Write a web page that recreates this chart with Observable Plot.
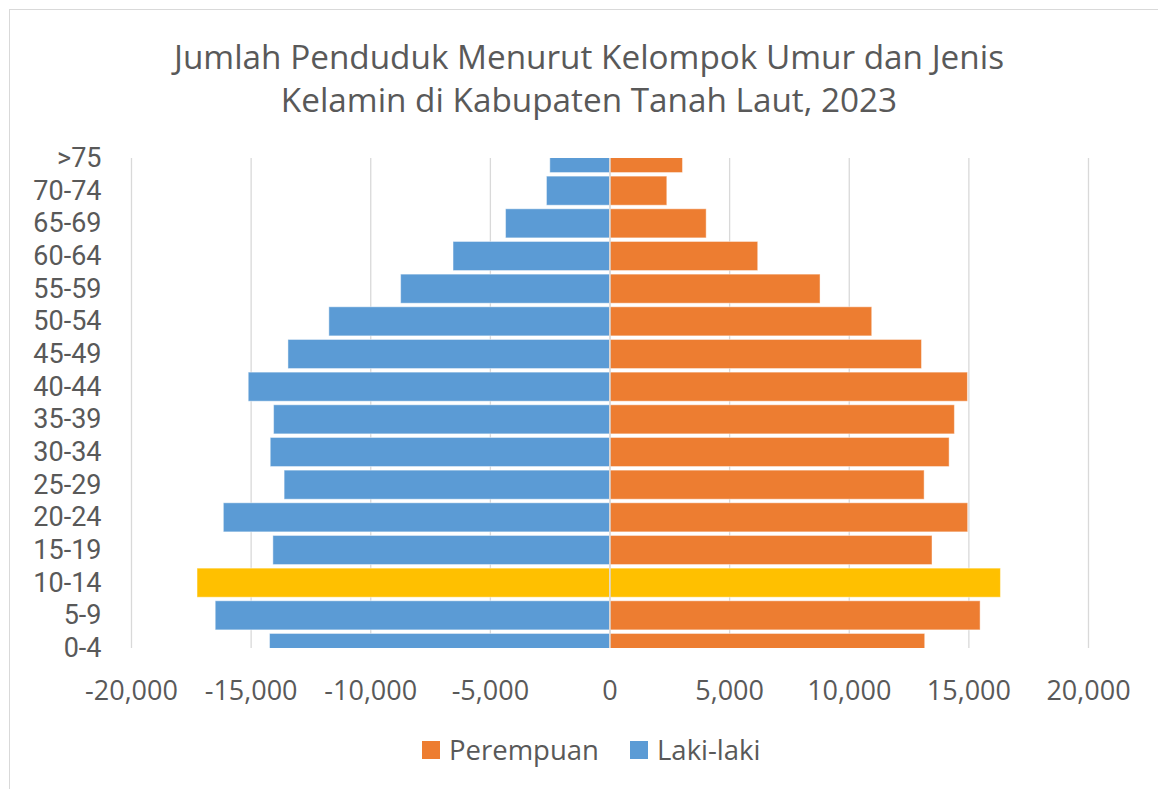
<!DOCTYPE html>
<html>
<head>
<meta charset="utf-8">
<script src="https://cdn.jsdelivr.net/npm/d3@7"></script>
<script src="https://cdn.jsdelivr.net/npm/@observablehq/plot@0.6"></script>
<style>
  html, body { margin: 0; padding: 0; background: #fff; }
  body { width: 1158px; height: 789px; position: relative; overflow: hidden; font-family: "Open Sans", "Noto Sans", sans-serif; }
  #frame { position: absolute; left: 9px; top: 9px; width: 1160px; height: 790px; border: 1px solid #d9d9d9; box-sizing: border-box; }
  #title { position: absolute; left: 9px; width: 1160px; top: 35px; text-align: center; color: #595959; font-size: 33.3px; line-height: 43px; }
  #chart { position: absolute; left: 0; top: 120px; }
  #legend { position: absolute; left: 0; top: 736px; width: 1158px; height: 28px; }
  .item { position: absolute; top: 0; display: flex; align-items: center; color: #595959; font-size: 27.5px; line-height: 28px; }
  .sw { width: 18px; height: 18px; margin-right: 9px; }
  g[aria-label="y-axis tick label"] text, g[aria-label="y-axis"] text { font-family: Roboto, "Open Sans", sans-serif; font-size: 27px; }
</style>
</head>
<body>
<div id="frame"></div>
<div id="title">Jumlah Penduduk Menurut Kelompok Umur dan Jenis<br>Kelamin di Kabupaten Tanah Laut, 2023</div>
<div id="chart"></div>
<div id="legend"></div>
<script>
// Age groups from youngest (bottom) to oldest (top)
const ageGroups = ["0-4","5-9","10-14","15-19","20-24","25-29","30-34","35-39","40-44","45-49","50-54","55-59","60-64","65-69","70-74",">75"];
const lakiLaki  = [14210, 16480, 17240, 14070, 16140, 13600, 14180, 14040, 15100, 13440, 11730, 8730, 6540, 4345, 2635, 2495];
const perempuan = [13175, 15490, 16340, 13480, 14970, 13150, 14195, 14415, 14960, 13040, 10960, 8800, 6195, 4040, 2395, 3050];
const highlightGroup = "10-14";
const seriesNames = ["Perempuan", "Laki-laki"];
const xTicks = [-20000, -15000, -10000, -5000, 0, 5000, 10000, 15000, 20000];

const colors = {"Perempuan": "#ED7D31", "Laki-laki": "#5B9BD5", "highlight": "#FFC000"};

const rows = [];
ageGroups.forEach((g, i) => {
  rows.push({group: g, idx: i, series: "Laki-laki", value: -lakiLaki[i]});
  rows.push({group: g, idx: i, series: "Perempuan", value: perempuan[i]});
});
const half = 0.445;
const fillOf = d => d.group === highlightGroup ? colors.highlight : colors[d.series];

const fmt = d3.format(",");
const tickFmt = d => (d < 0 ? "-" : "") + fmt(Math.abs(d));
const chart = Plot.plot({
  width: 1158,
  height: 600,
  marginTop: 38,
  marginBottom: 72,
  marginLeft: 131,
  marginRight: 70,
  style: {fontFamily: "'Open Sans', 'Noto Sans', sans-serif", fontSize: "27px", color: "#595959", background: "transparent"},
  x: {domain: [-20000, 20000], ticks: xTicks, tickFormat: tickFmt, tickSize: 0, tickPadding: 32, label: null, grid: false},
  y: {domain: [0, ageGroups.length - 1], ticks: d3.range(ageGroups.length), tickFormat: i => ageGroups[i], tickSize: 0, tickPadding: 30, label: null},
  marks: [
    Plot.ruleX(xTicks, {stroke: "#d9d9d9", strokeWidth: 1.3}),
    Plot.rect(rows, {
      x1: 0, x2: "value",
      y1: d => d.idx - half, y2: d => d.idx + half,
      fill: fillOf, stroke: "#ffffff", strokeOpacity: 0.45, strokeWidth: 1,
      clip: true
    }),
    Plot.ruleX([0], {stroke: "#d9d9d9", strokeWidth: 1.5})
  ]
});
document.getElementById("chart").appendChild(chart);

// legend
const legend = document.getElementById("legend");
const legendLeft = {"Perempuan": 422, "Laki-laki": 630};
seriesNames.forEach(s => {
  const it = document.createElement("div");
  it.className = "item";
  it.style.left = legendLeft[s] + "px";
  const sw = document.createElement("div");
  sw.className = "sw";
  sw.style.background = colors[s];
  const tx = document.createElement("span");
  tx.textContent = s;
  it.appendChild(sw); it.appendChild(tx);
  legend.appendChild(it);
});
</script>
</body>
</html>
